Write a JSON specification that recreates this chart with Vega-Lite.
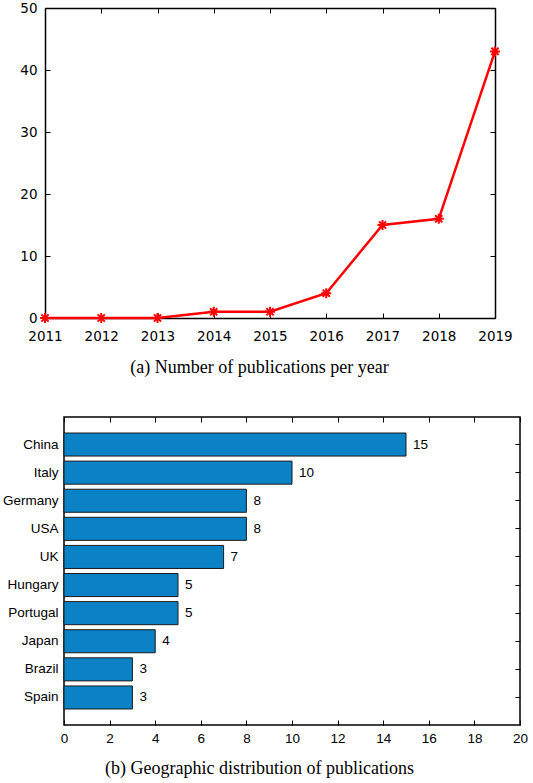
{
  "$schema": "https://vega.github.io/schema/vega-lite/v6.json",
  "padding": {"left": 0, "top": 1, "right": 0, "bottom": 0},
  "background": "white",
  "columns": 1,
  "align": "none",
  "spacing": 39,
  "config": {
    "view": {"stroke": "#000", "strokeWidth": 1.5},
    "axis": {"tickColor": "#000", "labelColor": "#000", "grid": false, "domain": false, "tickWidth": 1, "titleColor": "#000", "labelFlush": false, "domainColor": "#000", "domainWidth": 1.5}
  },
  "concat": [
    {
      "width": 431,
      "height": 310,
      "view": {"stroke": null},
      "data": {"values": [
        {"year": 2011, "count": 0},
        {"year": 2012, "count": 0},
        {"year": 2013, "count": 0},
        {"year": 2014, "count": 1},
        {"year": 2015, "count": 1},
        {"year": 2016, "count": 4},
        {"year": 2017, "count": 15},
        {"year": 2018, "count": 16},
        {"year": 2019, "count": 43}
      ]},
      "layer": [
        {
          "mark": {"type": "line", "color": "#ff0000", "strokeWidth": 2.5},
          "encoding": {
            "x": {"field": "year", "type": "quantitative", "scale": {"domain": [2011, 2019], "nice": false, "zero": false, "range": [-19, 431]},
              "axis": {"orient": "bottom", "domain": true, "values": [2011, 2012, 2013, 2014, 2015, 2016, 2017, 2018, 2019], "format": "d", "tickSize": -5,
                "labelFont": "DejaVu Sans", "labelFontSize": 13.5, "labelPadding": 16,
                "title": "(a) Number of publications per year", "titleFont": "Liberation Serif", "titleFontSize": 18, "titleFontWeight": "normal",
                "titleX": 195, "titleY": 54, "titleBaseline": "alphabetic", "titleAlign": "center"}},
            "y": {"field": "count", "type": "quantitative", "scale": {"domain": [0, 50], "nice": false},
              "axis": {"orient": "left", "domain": true, "offset": 19, "values": [0, 10, 20, 30, 40, 50], "tickSize": -5, "labelFont": "DejaVu Sans", "labelFontSize": 13.5, "labelPadding": 13, "title": null}}
          }
        },
        {
          "mark": {"type": "point", "shape": "M-1,0L1,0M0,-1L0,1M-0.72,-0.72L0.72,0.72M-0.72,0.72L0.72,-0.72", "stroke": "#ff0000", "strokeWidth": 2, "filled": false, "size": 100, "opacity": 1},
          "encoding": {
            "x": {"field": "year", "type": "quantitative", "axis": null},
            "y": {"field": "count", "type": "quantitative", "axis": null}
          }
        },
        {
          "mark": {"type": "point", "opacity": 0},
          "encoding": {
            "x": {"field": "year", "type": "quantitative", "axis": {"orient": "top", "domain": true, "values": [2011, 2012, 2013, 2014, 2015, 2016, 2017, 2018, 2019], "labels": false, "tickSize": -5, "title": null}},
            "y": {"field": "count", "type": "quantitative", "axis": {"orient": "right", "domain": true, "values": [0, 10, 20, 30, 40, 50], "labels": false, "tickSize": -5, "title": null}}
          }
        }
      ],
      "resolve": {"axis": {"x": "independent", "y": "independent"}}
    },
    {
      "width": 456,
      "height": 308,
      "data": {"values": [
        {"country": "China", "n": 15},
        {"country": "Italy", "n": 10},
        {"country": "Germany", "n": 8},
        {"country": "USA", "n": 8},
        {"country": "UK", "n": 7},
        {"country": "Hungary", "n": 5},
        {"country": "Portugal", "n": 5},
        {"country": "Japan", "n": 4},
        {"country": "Brazil", "n": 3},
        {"country": "Spain", "n": 3}
      ]},
      "layer": [
        {
          "mark": {"type": "bar", "color": "#0b82c6", "stroke": "#1a1a1a", "strokeWidth": 1},
          "encoding": {
            "y": {"field": "country", "type": "nominal", "sort": null, "scale": {"paddingInner": 0.18, "paddingOuter": 0.57},
              "axis": {"title": null, "tickSize": -5, "labelFont": "Liberation Sans", "labelFontSize": 13.5, "labelPadding": 11, "minExtent": 63, "maxExtent": 63}},
            "x": {"field": "n", "type": "quantitative", "scale": {"domain": [0, 20], "nice": false},
              "axis": {"values": [0, 2, 4, 6, 8, 10, 12, 14, 16, 18, 20], "tickSize": -5, "labelFont": "Liberation Sans", "labelFontSize": 13.5, "labelPadding": 11,
                "title": "(b) Geographic distribution of publications", "titleFont": "Liberation Serif", "titleFontSize": 18, "titleFontWeight": "normal",
                "titleX": 195, "titleY": 48, "titleBaseline": "alphabetic", "titleAlign": "center"}}
          }
        },
        {
          "mark": {"type": "text", "align": "left", "dx": 7, "font": "Liberation Sans", "fontSize": 13.5, "baseline": "middle", "color": "#000"},
          "encoding": {
            "y": {"field": "country", "type": "nominal", "sort": null, "axis": null},
            "x": {"field": "n", "type": "quantitative", "axis": null},
            "text": {"field": "n"}
          }
        },
        {
          "mark": {"type": "point", "opacity": 0},
          "encoding": {
            "y": {"field": "country", "type": "nominal", "sort": null, "axis": {"orient": "right", "labels": false, "tickSize": -5, "title": null}},
            "x": {"field": "n", "type": "quantitative", "axis": {"orient": "top", "values": [0, 2, 4, 6, 8, 10, 12, 14, 16, 18, 20], "labels": false, "tickSize": -5, "title": null}}
          }
        }
      ],
      "resolve": {"axis": {"x": "independent", "y": "independent"}}
    }
  ]
}
